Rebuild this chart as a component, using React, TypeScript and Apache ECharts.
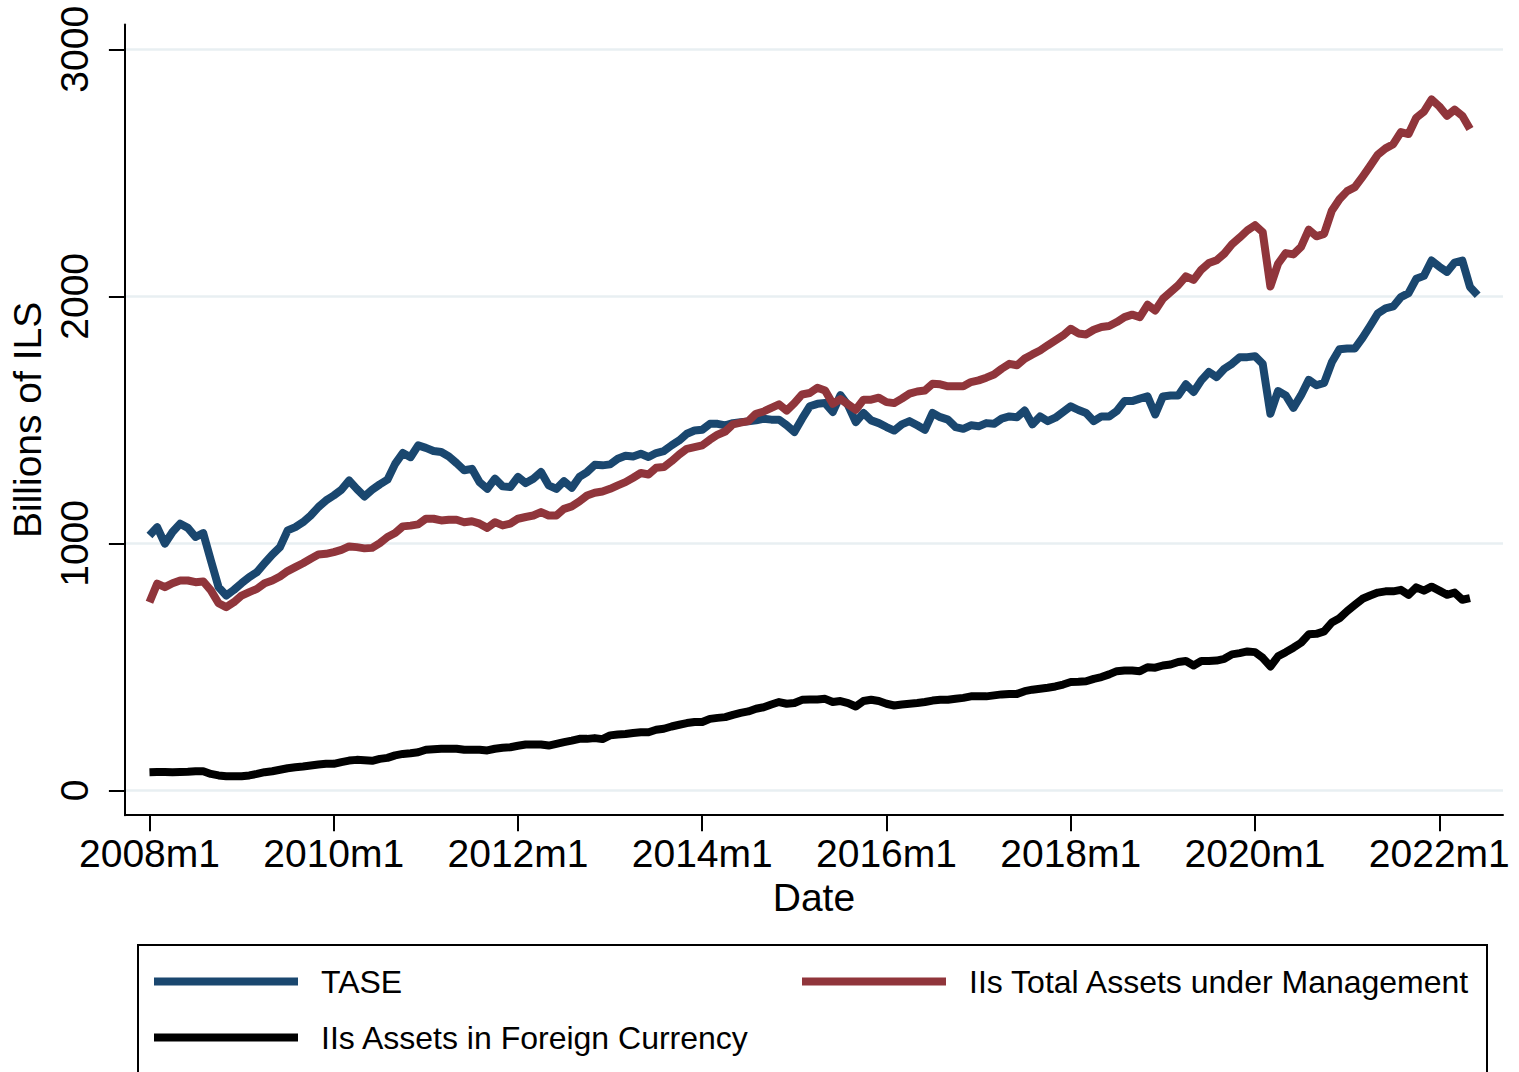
import React, { useEffect, useRef } from "react";
import * as echarts from "echarts";

// Monthly data, index 0 = 2008m1
const startYear = 2008;

const tase = [
  1032, 1066, 999, 1046, 1080, 1063, 1026, 1042, 931, 823, 789, 812,
  839, 864, 884, 920, 955, 985, 1053, 1066, 1086, 1113, 1147, 1174,
  1194, 1217, 1255, 1221, 1190, 1217, 1239, 1258, 1322, 1366, 1349, 1397,
  1387, 1374, 1370, 1352, 1325, 1296, 1302, 1248, 1221, 1262, 1231, 1228,
  1269, 1244, 1262, 1289, 1235, 1221, 1252, 1225, 1269, 1289, 1318, 1316,
  1320, 1343, 1355, 1352, 1363, 1350, 1366, 1374, 1397, 1417, 1444, 1457,
  1460, 1484, 1484, 1478, 1487, 1491, 1494, 1498, 1505, 1501, 1501, 1478,
  1451, 1505, 1555, 1565, 1568, 1532, 1600, 1559, 1491, 1528, 1498, 1487,
  1471, 1457, 1482, 1495, 1478, 1460, 1528, 1511, 1501, 1471, 1464, 1478,
  1474, 1487, 1484, 1505, 1514, 1511, 1538, 1482, 1514, 1495, 1509, 1532,
  1555, 1540, 1528, 1495, 1514, 1514, 1536, 1576, 1576, 1586, 1595, 1522,
  1595, 1599, 1599, 1644, 1613, 1660, 1694, 1673, 1707, 1727, 1754, 1754,
  1758, 1727, 1525, 1617, 1599, 1549, 1600, 1662, 1640, 1650, 1733, 1786,
  1789, 1789, 1832, 1881, 1931, 1951, 1959, 1997, 2013, 2071, 2083, 2145,
  2120, 2099, 2137, 2145, 2038, 2005,
];

const totalAssets = [
  762, 837, 823, 839, 850, 850, 843, 846, 810, 758, 742, 762,
  789, 803, 816, 839, 850, 866, 888, 904, 920, 938, 955, 958,
  965, 974, 988, 985, 980, 982, 1001, 1026, 1042, 1069, 1072, 1077,
  1100, 1100, 1093, 1096, 1096, 1086, 1090, 1080, 1063, 1086, 1073, 1080,
  1100, 1107, 1113, 1127, 1113, 1113, 1140, 1150, 1170, 1194, 1205, 1210,
  1221, 1235, 1248, 1266, 1285, 1279, 1306, 1309, 1333, 1360, 1383, 1390,
  1397, 1420, 1440, 1453, 1482, 1489, 1495, 1525, 1534, 1549, 1563, 1538,
  1568, 1603, 1609, 1630, 1619, 1565, 1584, 1563, 1541, 1582, 1582, 1590,
  1572, 1568, 1586, 1606, 1615, 1619, 1646, 1644, 1636, 1636, 1636, 1653,
  1660, 1671, 1684, 1707, 1727, 1721, 1748, 1765, 1781, 1802, 1822, 1842,
  1869, 1850, 1846, 1865, 1876, 1880, 1896, 1916, 1926, 1916, 1966, 1943,
  1990, 2018, 2045, 2081, 2067, 2108, 2135, 2146, 2173, 2211, 2238, 2267,
  2288, 2260, 2040, 2132, 2175, 2170, 2200, 2270, 2243, 2253, 2347, 2393,
  2426, 2442, 2484, 2528, 2574, 2599, 2616, 2665, 2657, 2723, 2748, 2797,
  2769, 2731, 2756, 2731, 2677,
];

const foreignAssets = [
  74, 75, 75, 74, 75, 76, 78, 78, 67, 61, 58, 58,
  58, 61, 67, 74, 78, 84, 90, 94, 97, 101, 105, 108,
  108, 115, 121, 124, 122, 120, 128, 132, 142, 148, 151, 155,
  165, 167, 169, 169, 169, 165, 165, 165, 162, 169, 173, 175,
  181, 186, 186, 186, 182, 189, 196, 202, 209, 209, 212, 208,
  223, 227, 229, 233, 236, 236, 246, 250, 259, 266, 273, 277,
  277, 290, 294, 297, 306, 314, 320, 331, 337, 348, 358, 351,
  354, 367, 368, 368, 371, 358, 362, 354, 340, 362, 367, 362,
  351, 344, 348, 351, 354, 358, 364, 367, 367, 371, 375, 381,
  381, 381, 385, 389, 391, 391, 402, 408, 412, 416, 421, 429,
  439, 440, 442, 452, 459, 470, 483, 486, 486, 483, 499, 497,
  506, 510, 520, 524, 506, 524, 524, 526, 533, 551, 556, 563,
  560, 537, 502, 543, 560, 578, 598, 632, 634, 644, 680, 697,
  726, 751, 776, 789, 801, 806, 806, 812, 792, 822, 809, 825,
  809, 792, 801, 772, 779,
];

const xTickMonths = [0, 24, 48, 72, 96, 120, 144, 168];
const yTicks = [0, 1000, 2000, 3000];

const seriesNames = [
  "TASE",
  "IIs Total Assets under Management",
  "IIs Assets in Foreign Currency",
];
const seriesColors = ["#1a476f", "#90353b", "#000000"];

const FONT = "'Liberation Sans', Arial, Helvetica, sans-serif";

function monthLabel(m: number): string {
  const y = startYear + Math.floor(m / 12);
  const mo = (m % 12) + 1;
  return `${y}m${mo}`;
}

export default function App() {
  const ref = useRef<HTMLDivElement>(null);

  useEffect(() => {
    document.body.style.margin = "0";
    if (!ref.current) return;
    const chart = echarts.init(ref.current, undefined, { renderer: "svg" });

    const toPairs = (arr: number[]) => arr.map((v, i) => [i, v]);
    const allSeries = [tase, totalAssets, foreignAssets];

    const legendRows = [
      { lx: 154, ly: 981.5 },
      { lx: 802, ly: 981.5 },
      { lx: 154, ly: 1037.5 },
    ];

    const graphic: any[] = [
      {
        type: "rect",
        shape: { x: 138, y: 945, width: 1349, height: 220 },
        style: { fill: "#ffffff", stroke: "#000000", lineWidth: 2 },
        z: 0,
      },
    ];
    legendRows.forEach((p, i) => {
      graphic.push({
        type: "line",
        shape: { x1: p.lx, y1: p.ly, x2: p.lx + 144, y2: p.ly },
        style: { stroke: seriesColors[i], lineWidth: 8 },
        z: 1,
      });
      graphic.push({
        type: "text",
        x: p.lx + 167,
        y: p.ly,
        style: {
          text: seriesNames[i],
          fill: "#000000",
          fontSize: 32,
          fontFamily: FONT,
          align: "left",
          verticalAlign: "middle",
        },
        z: 1,
      });
    });

    chart.setOption({
      animation: false,
      backgroundColor: "#ffffff",
      grid: { left: 123.5, right: 16, top: 24.6, bottom: 256.8, containLabel: false },
      xAxis: {
        type: "value",
        min: -3.2,
        max: 176.3,
        name: "Date",
        nameLocation: "middle",
        nameGap: 61,
        nameTextStyle: { fontSize: 39, fontFamily: FONT, color: "#000" },
        axisLine: { show: true, onZero: false, lineStyle: { color: "#000", width: 2 } },
        axisTick: {
          show: true,
          length: 16,
          customValues: xTickMonths,
          lineStyle: { color: "#000", width: 2 },
        },
        axisLabel: {
          customValues: xTickMonths,
          formatter: (v: number) => monthLabel(v),
          fontSize: 39,
          fontFamily: FONT,
          color: "#000",
          margin: 19,
          showMinLabel: true,
          showMaxLabel: true,
        },
        splitLine: { show: false },
      },
      yAxis: {
        type: "value",
        min: -100,
        max: 3100,
        name: "Billions of ILS",
        nameLocation: "middle",
        nameGap: 68,
        nameTextStyle: { fontSize: 39, fontFamily: FONT, color: "#000" },
        axisLine: { show: true, onZero: false, lineStyle: { color: "#000", width: 2 } },
        axisTick: {
          show: true,
          length: 16,
          customValues: yTicks,
          lineStyle: { color: "#000", width: 2 },
        },
        axisLabel: {
          customValues: yTicks,
          formatter: (v: number) => String(v),
          rotate: 90,
          fontSize: 39,
          fontFamily: FONT,
          color: "#000",
          margin: 31,
        },
        splitLine: { show: true, lineStyle: { color: "#e8eff2", width: 2.5 } },
      },
      series: allSeries.map((arr, i) => ({
        type: "line",
        name: seriesNames[i],
        data: toPairs(arr),
        showSymbol: false,
        symbol: "none",
        lineStyle: { color: seriesColors[i], width: 8, join: "round", cap: "butt" },
        itemStyle: { color: seriesColors[i] },
        z: 2 + i,
      })),
      graphic,
    });

    return () => chart.dispose();
  }, []);

  return <div ref={ref} style={{ width: 1519, height: 1072 }} />;
}
